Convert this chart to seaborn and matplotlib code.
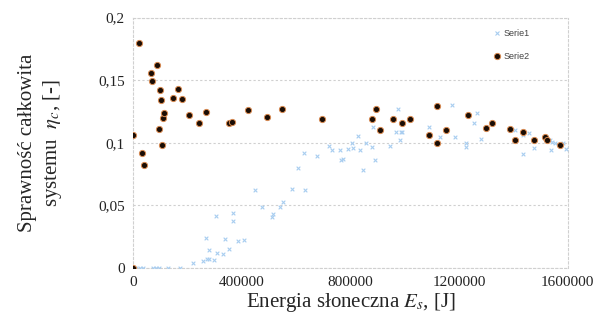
import matplotlib
matplotlib.use("Agg")
import matplotlib.pyplot as plt
import seaborn as sns
import pandas as pd
from matplotlib.ticker import FixedLocator, FuncFormatter
from matplotlib.lines import Line2D

x1 = [0, 10000, 24000, 34000, 71000, 83000, 95000, 129000, 172000, 221000, 255000, 272000, 280000, 297000,
      280000, 307000, 331000, 353000, 267000, 337000, 386000, 407000, 305000, 368000, 368000, 448000, 475000,
      509000, 515000, 540000, 552000, 585000, 605000, 632000, 629000, 677000, 720000, 733000, 760000, 763000,
      772000, 791000, 807000, 810000, 834000, 844000, 828000, 856000, 880000, 889000, 883000, 947000, 975000,
      969000, 984000, 991000, 981000, 1088000, 1131000, 1173000, 1183000, 1224000, 1224000, 1253000, 1265000,
      1281000, 1407000, 1434000, 1456000, 1434000, 1477000, 1533000, 1539000, 1543000, 1551000, 1582000, 1594000]
y1 = [0, 0, 0, 0, 0, 0, 0, 0, 0, 0.004, 0.006, 0.007, 0.007, 0.0065,
      0.0145, 0.012, 0.011, 0.015, 0.024, 0.023, 0.0216, 0.0226, 0.0416, 0.038, 0.044, 0.062, 0.049,
      0.041, 0.043, 0.049, 0.053, 0.063, 0.080, 0.062, 0.092, 0.0895, 0.0975, 0.094, 0.094, 0.086,
      0.087, 0.095, 0.100, 0.096, 0.0945, 0.078, 0.1055, 0.1001, 0.0964, 0.086, 0.113, 0.0975, 0.127,
      0.109, 0.109, 0.109, 0.102, 0.113, 0.105, 0.130, 0.105, 0.0996, 0.097, 0.116, 0.124,
      0.103, 0.110, 0.106, 0.1076, 0.091, 0.0956, 0.102, 0.094, 0.101, 0.100, 0.0996, 0.0948]

x2 = [0, 0, 22000, 32000, 38000, 65000, 70000, 88000, 96000, 98000, 101000, 105000, 108000, 114000, 147000,
      166000, 179000, 206000, 243000, 266000, 353000, 364000, 422000, 492000, 548000, 695000, 879000, 894000,
      910000, 958000, 991000, 1017000, 1088000, 1117000, 1120000, 1153000, 1234000, 1300000, 1321000, 1386000,
      1406000, 1434000, 1476000, 1516000, 1524000, 1570000]
y2 = [0, 0.106, 0.180, 0.092, 0.082, 0.156, 0.149, 0.162, 0.111, 0.142, 0.134, 0.098, 0.120, 0.124, 0.136,
      0.143, 0.135, 0.122, 0.116, 0.125, 0.116, 0.117, 0.126, 0.121, 0.127, 0.119, 0.119, 0.127,
      0.110, 0.119, 0.116, 0.119, 0.106, 0.129, 0.0996, 0.110, 0.122, 0.112, 0.116, 0.111,
      0.102, 0.109, 0.102, 0.105, 0.102, 0.098]

series_names = ["Serie1", "Serie2"]
x_ticks = [0, 400000, 800000, 1200000, 1600000]
y_ticks = [0, 0.05, 0.1, 0.15, 0.2]
y_tick_labels = ["0", "0,05", "0,1", "0,15", "0,2"]

sns.set_style("white")
plt.rcParams["font.family"] = ["Liberation Serif", "DejaVu Serif"]
plt.rcParams["mathtext.fontset"] = "stix"

c1 = "#a8cdf0"
c2_face = "#1a0d05"
c2_edge = "#d98a50"

fig = plt.figure(figsize=(6.06, 3.31), dpi=100)
ax = fig.add_axes([0.22, 0.19, 0.717, 0.757])

df1 = pd.DataFrame({"x": x1, "y": y1})
df2 = pd.DataFrame({"x": x2, "y": y2})

sns.scatterplot(data=df1, x="x", y="y", ax=ax, marker="x", color=c1, s=7, linewidth=0.8, zorder=3)
sns.scatterplot(data=df2, x="x", y="y", ax=ax, marker="o", color=c2_face, edgecolor=c2_edge,
                s=20, linewidth=0.7, zorder=4)

ax.set_xlim(0, 1600000)
ax.set_ylim(0, 0.2)
ax.xaxis.set_major_locator(FixedLocator(x_ticks))
ax.yaxis.set_major_locator(FixedLocator(y_ticks))
ax.xaxis.set_major_formatter(FuncFormatter(lambda v, p: f"{int(v)}"))
ax.yaxis.set_major_formatter(FuncFormatter(lambda v, p: y_tick_labels[p] if p is not None and p < len(y_tick_labels) else ""))
ax.tick_params(axis="both", labelsize=11, length=0, pad=6, colors="#222222")

ax.grid(axis="y", color="#d0d0d0", linestyle=(0, (2, 2)), linewidth=0.8)
for sp in ax.spines.values():
    sp.set_visible(True)
    sp.set_color("#d0d0d0")
    sp.set_linestyle((0, (2, 2)))
    sp.set_linewidth(0.8)

ax.set_xlabel(r"Energia słoneczna $E_s$, [J]", fontsize=15, labelpad=1)
ax.set_ylabel("Sprawność całkowita\n" + r"systemu  $\eta_c$, [-]", fontsize=15, labelpad=25, linespacing=1.25)

handles = [
    Line2D([], [], linestyle="none", marker="x", color=c1, markersize=3, markeredgewidth=0.8),
    Line2D([], [], linestyle="none", marker="o", markerfacecolor=c2_face, markeredgecolor=c2_edge,
           markersize=4.5, markeredgewidth=0.7),
]
ax.legend(handles, series_names, loc="upper right", bbox_to_anchor=(0.93, 0.985), frameon=False,
          handletextpad=0.2, labelspacing=1.5, handlelength=1.0, labelcolor="#444444",
          prop={"family": ["Liberation Sans"], "size": 6.5})

fig.savefig("out.png", dpi=100)
